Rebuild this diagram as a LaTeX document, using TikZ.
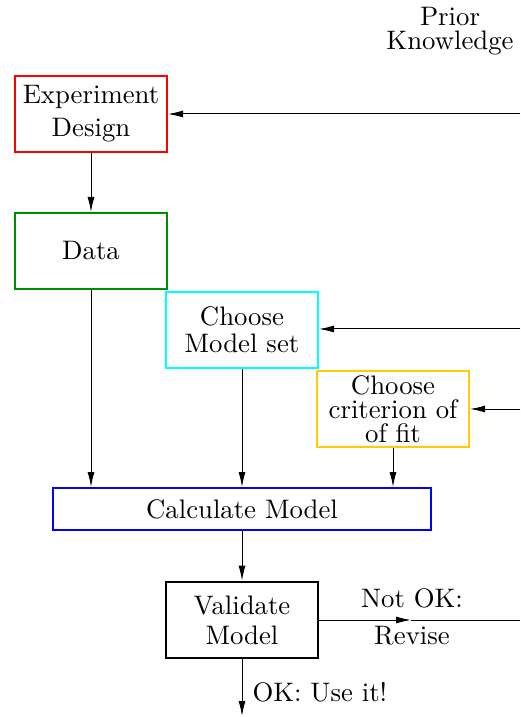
\documentclass[tikz,border=0pt]{standalone}
\usetikzlibrary{arrows.meta}
\definecolor{boxred}{RGB}{255,0,0}
\definecolor{boxgreen}{RGB}{0,140,0}
\definecolor{boxcyan}{RGB}{0,255,255}
\definecolor{boxgold}{RGB}{255,204,0}
\definecolor{boxblue}{RGB}{0,0,255}
\tikzset{
  stage/.style={draw, line width=0.8pt, minimum width=60.8pt, minimum height=30.4pt,
    inner sep=0pt, align=center},
  flow/.style={line width=0.4pt, -{Latex[length=6pt,width=2.8pt]}},
  plain/.style={line width=0.4pt},
  lbl/.style={inner sep=0pt, align=center},
  every node/.append style={font=\fontsize{10.7}{12.5}\selectfont},
}
\begin{document}
\begin{tikzpicture}[x=0.4pt, y=-0.4pt]
  \useasboundingbox (0,0) rectangle (520,717);

  % header text for the feed-in lines
  \node[lbl, font=\fontsize{10.7}{9.8}\selectfont] (prior) at (450,31) {Prior\\Knowledge};

  % process boxes
  \node[stage, draw=boxred, font=\fontsize{10.7}{13.2}\selectfont] (design) at (91,114) {Experiment\\Design};
  \node[stage, draw=boxgreen] (data) at (91,251) {Data};
  \node[stage, draw=boxcyan, font=\fontsize{10.7}{10.8}\selectfont] (modelset) at (242,330) {Choose\\Model set};
  \node[stage, draw=boxgold, font=\fontsize{10.7}{9.6}\selectfont] (criterion) at (393,409) {Choose\\criterion of\\of fit};
  \node[stage, draw=boxblue, minimum width=151.2pt, minimum height=16.8pt] (calc) at (242,509) {Calculate Model};
  \node[stage, line width=1.1pt, font=\fontsize{10.7}{12}\selectfont] (validate) at (242,620) {Validate\\Model};

  % free ends at the right edge and at the bottom
  \coordinate (inDesign) at (520,114);
  \coordinate (inModel) at (520,329);
  \coordinate (inCrit) at (520,409);
  \coordinate (revMid) at (411,620);
  \coordinate (revEnd) at (520,620);
  \coordinate (useEnd) at (242,716);

  % prior knowledge feeding in
  \draw[flow] (inDesign) -- (design.east);
  \draw[flow] (inModel) -- (modelset.east |- inModel);
  \draw[flow] (inCrit) -- (criterion.east);

  % main flow
  \draw[flow] (design) -- (data);
  \draw[flow] (data.south) -- (data.south |- calc.north);
  \draw[flow] (modelset) -- (modelset.south |- calc.north);
  \draw[flow] (criterion) -- (criterion.south |- calc.north);
  \draw[flow] (calc) -- (validate);

  % outcome of validation
  \draw[flow] (validate.east) -- (revMid);
  \draw[plain] (revMid) -- (revEnd);
  \node[lbl] (notok) at (412,598) {Not OK:};
  \node[lbl] (revise) at (412,636) {Revise};
  \draw[flow] (validate.south) -- (useEnd);
  \node[lbl, anchor=west] (useit) at (252,692) {OK: Use it!};
\end{tikzpicture}
\end{document}
